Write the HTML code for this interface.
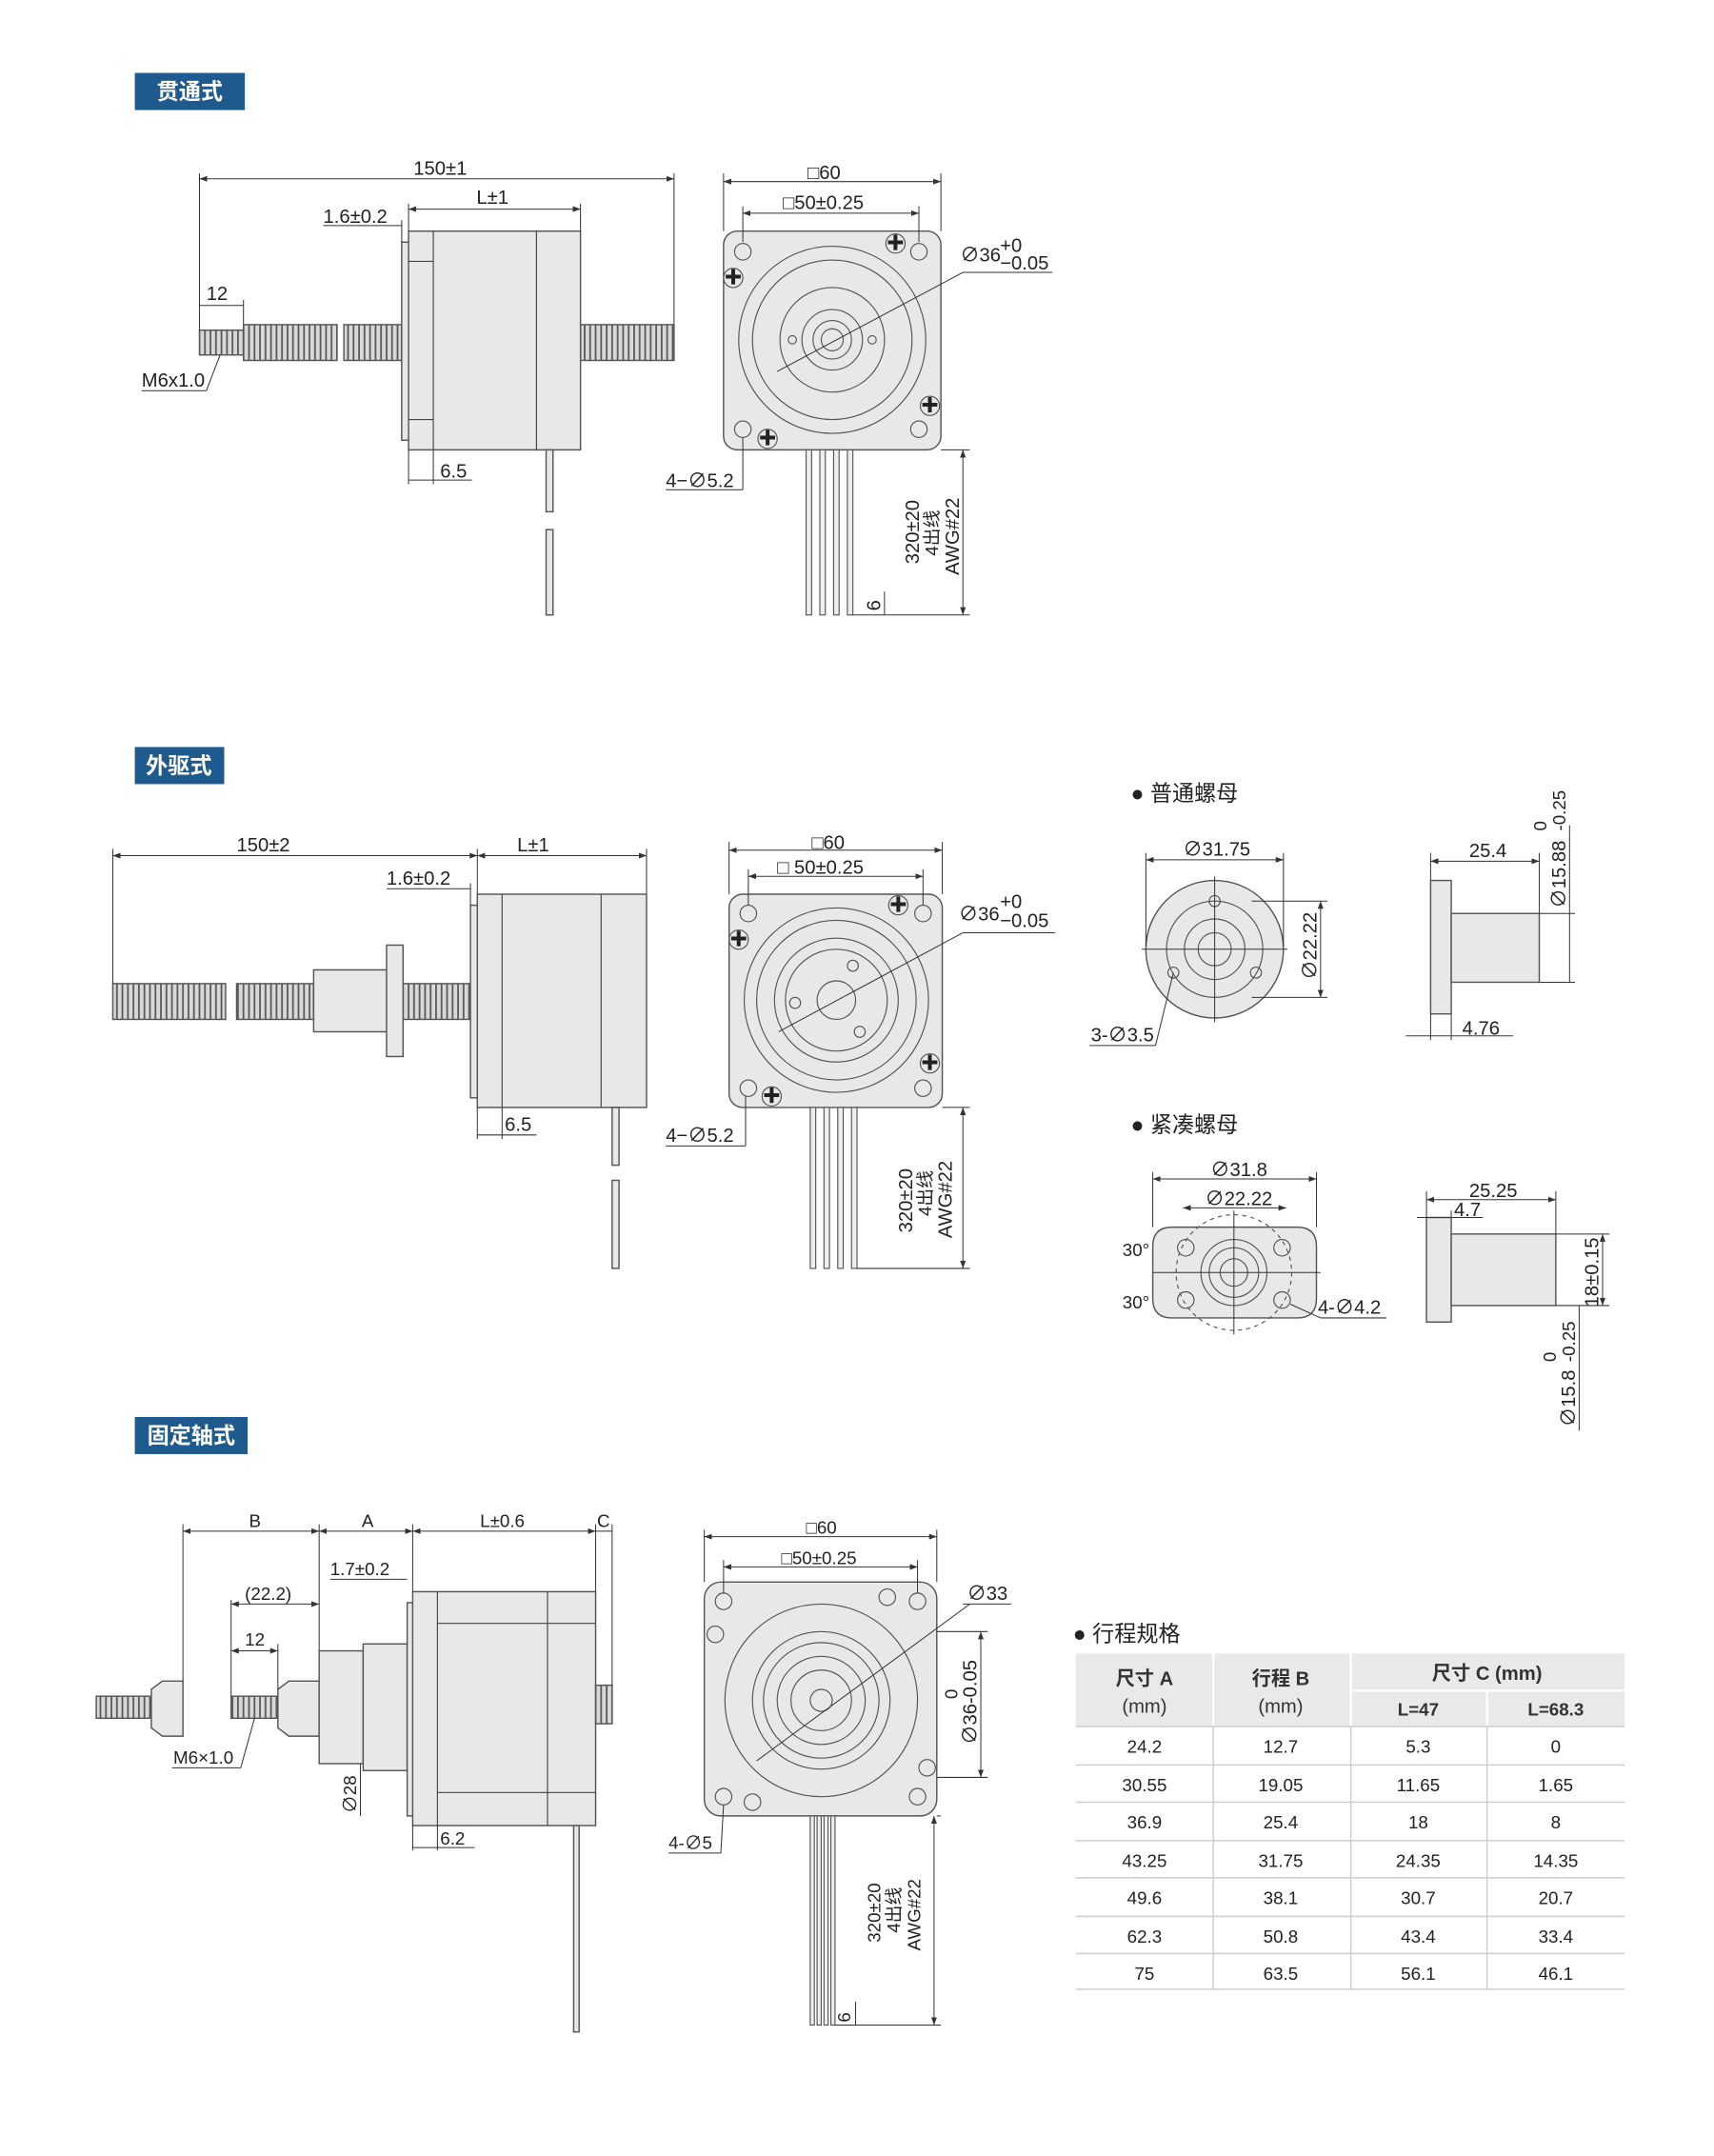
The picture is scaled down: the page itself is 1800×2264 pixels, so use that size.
<!DOCTYPE html>
<html><head><meta charset="utf-8">
<style>
html,body{margin:0;padding:0;background:#fff;}
svg{display:block;}
text{font-family:"Liberation Sans","Noto Sans CJK SC",sans-serif;fill:#222;}
.b{fill:#e8e8e8;stroke:#555;stroke-width:1;}
.l{stroke:#444;stroke-width:0.8;fill:none;}
.d{stroke:#333;stroke-width:0.7;fill:none;}
.c{stroke:#555;stroke-width:0.8;fill:none;}
.t{font-size:14px;}
.s{font-size:13px;}
.lab{fill:#fff;font-weight:bold;font-size:16px;}
.th{font-size:14px;font-weight:bold;fill:#333;}
.td{font-size:13px;fill:#555;}
</style></head>
<body>
<svg width="1800" height="2264" viewBox="0 0 1246 1567.2" xmlns="http://www.w3.org/2000/svg">
<defs>
<pattern id="thr" width="4" height="10" patternUnits="userSpaceOnUse">
<rect width="4" height="10" fill="#d8d8d8"/><line x1="1" y1="0" x2="1" y2="10" stroke="#555" stroke-width="1.2"/>
</pattern>
<marker id="a" markerWidth="8" markerHeight="6" refX="8" refY="3" orient="auto-start-reverse"><path d="M0,0 L8,3 L0,6z" fill="#333"/></marker>
</defs>

<!-- ===== Section 1 ===== -->
<rect x="98" y="53" width="80" height="27" fill="#1f5a8e"/>
<text x="138" y="72" text-anchor="middle" class="lab">贯通式</text>

<rect x="145" y="240" width="32" height="18" fill="url(#thr)" stroke="#555"/>
<rect x="177" y="236" width="68" height="26" fill="url(#thr)" stroke="#555"/>
<rect x="250" y="236" width="42" height="26" fill="url(#thr)" stroke="#555"/>
<rect x="422" y="236" width="68" height="26" fill="url(#thr)" stroke="#555"/>
<rect x="292" y="176" width="6" height="144" class="b"/>
<rect x="297" y="168" width="125" height="159" class="b"/>
<line x1="315" y1="168" x2="315" y2="327" class="l"/>
<line x1="390" y1="168" x2="390" y2="327" class="l"/>
<line x1="297" y1="190" x2="315" y2="190" class="l"/><line x1="297" y1="305" x2="315" y2="305" class="l"/>
<rect x="397" y="327" width="5" height="45" class="b"/><rect x="397" y="385" width="5" height="62" class="b"/>
<line x1="145" y1="130" x2="490" y2="130" class="d" marker-start="url(#a)" marker-end="url(#a)"/>
<line x1="145" y1="126" x2="145" y2="240" class="d"/><line x1="490" y1="126" x2="490" y2="236" class="d"/>
<text x="320" y="127" text-anchor="middle" class="t">150±1</text>
<line x1="297" y1="152" x2="422" y2="152" class="d" marker-start="url(#a)" marker-end="url(#a)"/>
<line x1="422" y1="148" x2="422" y2="168" class="d"/><line x1="297" y1="148" x2="297" y2="168" class="d"/>
<text x="358" y="148" text-anchor="middle" class="t">L±1</text>
<line x1="235" y1="164" x2="292" y2="164" class="d"/><line x1="292" y1="160" x2="292" y2="176" class="d"/>
<text x="235" y="162" class="t">1.6±0.2</text>
<line x1="145" y1="222" x2="177" y2="222" class="d"/><line x1="177" y1="218" x2="177" y2="236" class="d"/>
<text x="150" y="218" class="t">12</text>
<line x1="103" y1="284" x2="150" y2="284" class="d"/><line x1="150" y1="284" x2="160" y2="258" class="d"/>
<text x="103" y="281" class="t">M6x1.0</text>
<line x1="297" y1="327" x2="297" y2="352" class="d"/><line x1="315" y1="327" x2="315" y2="352" class="d"/>
<line x1="297" y1="349" x2="343" y2="349" class="d"/>
<text x="320" y="347" class="t">6.5</text>

<rect x="526" y="168" width="158" height="159" rx="10" class="b"/>
<circle cx="605" cy="247" r="68" class="c"/><circle cx="605" cy="247" r="58" class="c"/>
<circle cx="605" cy="247" r="38" class="c"/><circle cx="605" cy="247" r="22" class="c"/>
<circle cx="605" cy="247" r="14" class="c"/><circle cx="605" cy="247" r="8" class="c"/>
<circle cx="576" cy="247" r="3" class="c"/><circle cx="634" cy="247" r="3" class="c"/>
<circle cx="540" cy="183" r="6" class="c"/><circle cx="668" cy="183" r="6" class="c"/>
<circle cx="540" cy="312" r="6" class="c"/><circle cx="668" cy="312" r="6" class="c"/>
<g class="c"><circle cx="651" cy="177" r="7"/><circle cx="533" cy="202" r="7"/><circle cx="676" cy="295" r="7"/><circle cx="558" cy="319" r="7"/></g>
<text x="651" y="181" text-anchor="middle" class="s">✚</text><text x="533" y="206" text-anchor="middle" class="s">✚</text>
<text x="676" y="299" text-anchor="middle" class="s">✚</text><text x="558" y="323" text-anchor="middle" class="s">✚</text>
<line x1="565" y1="270" x2="700" y2="198" class="d"/><line x1="700" y1="198" x2="765" y2="198" class="d"/>
<text x="698" y="190" class="t">∅36</text><text x="727" y="183" class="t">+0</text><text x="727" y="196" class="t">−0.05</text>
<g fill="#eee" stroke="#555" stroke-width="0.8">
<rect x="586" y="327" width="4" height="120"/><rect x="596" y="327" width="4" height="120"/><rect x="606" y="327" width="4" height="120"/><rect x="616" y="327" width="4" height="120"/></g>
<line x1="526" y1="126" x2="526" y2="168" class="d"/><line x1="684" y1="126" x2="684" y2="168" class="d"/>
<line x1="526" y1="132" x2="684" y2="132" class="d" marker-start="url(#a)" marker-end="url(#a)"/>
<text x="587" y="130" class="t">□60</text>
<line x1="540" y1="150" x2="540" y2="176" class="d"/><line x1="668" y1="150" x2="668" y2="176" class="d"/>
<line x1="540" y1="155" x2="668" y2="155" class="d" marker-start="url(#a)" marker-end="url(#a)"/>
<text x="569" y="152" class="t">□50±0.25</text>
<line x1="484" y1="356" x2="540" y2="356" class="d"/><line x1="540" y1="356" x2="540" y2="318" class="d"/>
<text x="484" y="354" class="t">4−∅5.2</text>
<line x1="684" y1="327" x2="705" y2="327" class="d"/><line x1="620" y1="447" x2="705" y2="447" class="d"/>
<line x1="700" y1="327" x2="700" y2="447" class="d" marker-start="url(#a)" marker-end="url(#a)"/>
<line x1="643" y1="430" x2="643" y2="447" class="d"/>
<text transform="translate(668,410) rotate(-90)" class="t">320±20</text>
<text transform="translate(682,404) rotate(-90)" class="s">4出线</text>
<text transform="translate(697,418) rotate(-90)" class="t">AWG#22</text>
<text transform="translate(640,444) rotate(-90)" class="t">6</text>

<!-- ===== Section 2 ===== -->
<rect x="98" y="543" width="65" height="27" fill="#1f5a8e"/>
<text x="130" y="562" text-anchor="middle" class="lab">外驱式</text>
<rect x="82" y="715" width="82" height="26" fill="url(#thr)" stroke="#555"/>
<rect x="172" y="715" width="56" height="26" fill="url(#thr)" stroke="#555"/>
<rect x="293" y="715" width="52" height="26" fill="url(#thr)" stroke="#555"/>
<rect x="228" y="705" width="54" height="45" class="b"/>
<rect x="281" y="687" width="12" height="81" class="b"/>
<rect x="342" y="658" width="6" height="140" class="b"/>
<rect x="347" y="650" width="123" height="155" class="b"/>
<line x1="365" y1="650" x2="365" y2="805" class="l"/><line x1="437" y1="650" x2="437" y2="805" class="l"/>
<rect x="445" y="805" width="5" height="42" class="b"/><rect x="445" y="858" width="5" height="64" class="b"/>
<line x1="82" y1="617" x2="82" y2="715" class="d"/><line x1="347" y1="617" x2="347" y2="650" class="d"/><line x1="470" y1="617" x2="470" y2="650" class="d"/>
<line x1="82" y1="622" x2="347" y2="622" class="d" marker-start="url(#a)" marker-end="url(#a)"/>
<line x1="347" y1="622" x2="470" y2="622" class="d" marker-start="url(#a)" marker-end="url(#a)"/>
<text x="172" y="619" class="t">150±2</text><text x="376" y="619" class="t">L±1</text>
<line x1="281" y1="646" x2="342" y2="646" class="d"/><line x1="342" y1="642" x2="342" y2="658" class="d"/>
<text x="281" y="643" class="t">1.6±0.2</text>
<line x1="347" y1="805" x2="347" y2="828" class="d"/><line x1="365" y1="805" x2="365" y2="828" class="d"/>
<line x1="347" y1="825" x2="390" y2="825" class="d"/><text x="367" y="822" class="t">6.5</text>

<rect x="530" y="650" width="155" height="155" rx="10" class="b"/>
<circle cx="608" cy="727" r="67" class="c"/><circle cx="608" cy="727" r="58" class="c"/>
<circle cx="608" cy="727" r="45" class="c"/><circle cx="608" cy="727" r="37" class="c"/>
<circle cx="608" cy="727" r="14" class="c"/>
<circle cx="620" cy="702" r="4" class="c"/><circle cx="625" cy="750" r="4" class="c"/><circle cx="578" cy="729" r="4" class="c"/>
<circle cx="544" cy="664" r="6" class="c"/><circle cx="671" cy="664" r="6" class="c"/>
<circle cx="544" cy="791" r="6" class="c"/><circle cx="671" cy="791" r="6" class="c"/>
<g class="c"><circle cx="653" cy="658" r="7"/><circle cx="537" cy="683" r="7"/><circle cx="676" cy="773" r="7"/><circle cx="561" cy="797" r="7"/></g>
<text x="653" y="662" text-anchor="middle" class="s">✚</text><text x="537" y="687" text-anchor="middle" class="s">✚</text>
<text x="676" y="777" text-anchor="middle" class="s">✚</text><text x="561" y="801" text-anchor="middle" class="s">✚</text>
<line x1="566" y1="750" x2="700" y2="678" class="d"/><line x1="700" y1="678" x2="767" y2="678" class="d"/>
<text x="697" y="669" class="t">∅36</text><text x="727" y="660" class="t">+0</text><text x="727" y="674" class="t">−0.05</text>
<g fill="#eee" stroke="#555" stroke-width="0.8">
<rect x="589" y="805" width="4" height="117"/><rect x="599" y="805" width="4" height="117"/><rect x="609" y="805" width="4" height="117"/><rect x="619" y="805" width="4" height="117"/></g>
<line x1="530" y1="612" x2="530" y2="650" class="d"/><line x1="685" y1="612" x2="685" y2="650" class="d"/>
<line x1="530" y1="618" x2="685" y2="618" class="d" marker-start="url(#a)" marker-end="url(#a)"/>
<text x="590" y="617" class="t">□60</text>
<line x1="544" y1="632" x2="544" y2="658" class="d"/><line x1="671" y1="632" x2="671" y2="658" class="d"/>
<line x1="544" y1="637" x2="671" y2="637" class="d" marker-start="url(#a)" marker-end="url(#a)"/>
<text x="565" y="635" class="t">□ 50±0.25</text>
<line x1="484" y1="833" x2="542" y2="833" class="d"/><line x1="542" y1="833" x2="542" y2="797" class="d"/>
<text x="484" y="830" class="t">4−∅5.2</text>
<line x1="685" y1="805" x2="705" y2="805" class="d"/><line x1="623" y1="922" x2="705" y2="922" class="d"/>
<line x1="700" y1="805" x2="700" y2="922" class="d" marker-start="url(#a)" marker-end="url(#a)"/>
<text transform="translate(663,896) rotate(-90)" class="t">320±20</text>
<text transform="translate(677,884) rotate(-90)" class="s">4出线</text>
<text transform="translate(692,900) rotate(-90)" class="t">AWG#22</text>

<text x="822" y="582" class="t" style="font-size:16px">● 普通螺母</text>
<circle cx="883" cy="690" r="50" class="b"/><circle cx="883" cy="690" r="35" class="c"/>
<circle cx="883" cy="690" r="22" class="c"/><circle cx="883" cy="690" r="12" class="c"/>
<circle cx="883" cy="655" r="4" class="c"/><circle cx="853" cy="707" r="4" class="c"/><circle cx="913" cy="707" r="4" class="c"/>
<line x1="830" y1="690" x2="936" y2="690" class="d"/><line x1="883" y1="637" x2="883" y2="743" class="d"/>
<line x1="833" y1="620" x2="833" y2="688" class="d"/><line x1="933" y1="620" x2="933" y2="688" class="d"/>
<line x1="833" y1="625" x2="933" y2="625" class="d" marker-start="url(#a)" marker-end="url(#a)"/>
<text x="860" y="622" class="t">∅31.75</text>
<line x1="910" y1="655" x2="965" y2="655" class="d"/><line x1="910" y1="725" x2="965" y2="725" class="d"/>
<line x1="960" y1="655" x2="960" y2="725" class="d" marker-start="url(#a)" marker-end="url(#a)"/>
<text transform="translate(957,712) rotate(-90)" class="t">∅22.22</text>
<line x1="792" y1="760" x2="840" y2="760" class="d"/><line x1="840" y1="760" x2="853" y2="707" class="d"/>
<text x="793" y="757" class="t">3-∅3.5</text>
<rect x="1040" y="640" width="15" height="97" class="b"/>
<rect x="1055" y="664" width="64" height="50" class="b"/>
<line x1="1040" y1="620" x2="1040" y2="640" class="d"/><line x1="1119" y1="620" x2="1119" y2="664" class="d"/>
<line x1="1040" y1="626" x2="1119" y2="626" class="d" marker-start="url(#a)" marker-end="url(#a)"/>
<text x="1068" y="623" class="t">25.4</text>
<line x1="1119" y1="664" x2="1145" y2="664" class="d"/><line x1="1119" y1="714" x2="1145" y2="714" class="d"/>
<line x1="1141" y1="600" x2="1141" y2="714" class="d"/>
<text transform="translate(1138,660) rotate(-90)" class="t">∅15.88</text>
<text transform="translate(1138,604) rotate(-90)" class="s">-0.25</text>
<text transform="translate(1124,604) rotate(-90)" class="s">0</text>
<line x1="1040" y1="737" x2="1040" y2="756" class="d"/><line x1="1055" y1="737" x2="1055" y2="756" class="d"/>
<line x1="1022" y1="753" x2="1100" y2="753" class="d"/><text x="1063" y="752" class="t">4.76</text>

<text x="822" y="823" class="t" style="font-size:16px">● 紧凑螺母</text>
<path d="M852,892 L943,892 Q957,892 957,906 L957,944 Q957,958 943,958 L852,958 Q838,958 838,944 L838,906 Q838,892 852,892z" class="b"/>
<circle cx="897" cy="925" r="42" class="c" stroke-dasharray="3,3"/>
<circle cx="897" cy="925" r="24" class="c"/><circle cx="897" cy="925" r="18" class="c"/><circle cx="897" cy="925" r="10" class="c"/>
<circle cx="862" cy="907" r="6" class="c"/><circle cx="932" cy="907" r="6" class="c"/>
<circle cx="862" cy="945" r="6" class="c"/><circle cx="932" cy="945" r="6" class="c"/>
<line x1="838" y1="925" x2="960" y2="925" class="d"/><line x1="897" y1="880" x2="897" y2="970" class="d"/>
<line x1="838" y1="852" x2="838" y2="892" class="d"/><line x1="957" y1="852" x2="957" y2="892" class="d"/>
<line x1="838" y1="857" x2="957" y2="857" class="d" marker-start="url(#a)" marker-end="url(#a)"/>
<text x="880" y="855" class="t">∅31.8</text>
<line x1="860" y1="878" x2="935" y2="878" class="d" marker-start="url(#a)" marker-end="url(#a)"/>
<text x="876" y="876" class="t">∅22.22</text>
<text x="816" y="913" class="s">30°</text><text x="816" y="951" class="s">30°</text>
<line x1="938" y1="948" x2="960" y2="958" class="d"/><line x1="960" y1="958" x2="1008" y2="958" class="d"/>
<text x="958" y="955" class="t">4-∅4.2</text>
<rect x="1037" y="885" width="18" height="76" class="b"/><rect x="1055" y="897" width="76" height="52" class="b"/>
<line x1="1037" y1="866" x2="1037" y2="885" class="d"/><line x1="1131" y1="866" x2="1131" y2="897" class="d"/>
<line x1="1037" y1="872" x2="1131" y2="872" class="d" marker-start="url(#a)" marker-end="url(#a)"/>
<text x="1068" y="870" class="t">25.25</text>
<line x1="1055" y1="880" x2="1055" y2="885" class="d"/>
<line x1="1030" y1="885" x2="1078" y2="885" class="d"/><text x="1057" y="884" class="t">4.7</text>
<line x1="1131" y1="897" x2="1170" y2="897" class="d"/><line x1="1131" y1="949" x2="1170" y2="949" class="d"/>
<line x1="1165" y1="897" x2="1165" y2="949" class="d" marker-start="url(#a)" marker-end="url(#a)"/>
<text transform="translate(1162,950) rotate(-90)" class="t">18±0.15</text>
<line x1="1148" y1="949" x2="1148" y2="1040" class="d"/>
<text transform="translate(1145,1037) rotate(-90)" class="t">∅15.8</text>
<text transform="translate(1145,990) rotate(-90)" class="s">-0.25</text>
<text transform="translate(1131,990) rotate(-90)" class="s">0</text>

<!-- ===== Section 3 ===== -->
<rect x="98" y="1030" width="82" height="27" fill="#1f5a8e"/>
<text x="139" y="1049" text-anchor="middle" class="lab">固定轴式</text>
<rect x="70" y="1233" width="40" height="16" fill="url(#thr)" stroke="#555"/>
<path d="M110,1228 L118,1222 L133,1222 L133,1262 L118,1262 L110,1256z" class="b"/>
<rect x="168" y="1233" width="34" height="16" fill="url(#thr)" stroke="#555"/>
<path d="M202,1228 L210,1222 L232,1222 L232,1262 L210,1262 L202,1256z" class="b"/>
<rect x="232" y="1200" width="32" height="82" class="b"/>
<rect x="264" y="1195" width="32" height="92" class="b"/>
<rect x="296" y="1165" width="5" height="155" class="b"/>
<rect x="300" y="1157" width="133" height="170" class="b"/>
<line x1="318" y1="1157" x2="318" y2="1327" class="l"/><line x1="398" y1="1157" x2="398" y2="1327" class="l"/>
<line x1="318" y1="1180" x2="433" y2="1180" class="l"/><line x1="318" y1="1303" x2="433" y2="1303" class="l"/>
<rect x="433" y="1225" width="12" height="28" fill="url(#thr)" stroke="#555"/>
<rect x="417" y="1327" width="4" height="150" class="b"/>
<g class="d">
<line x1="133" y1="1108" x2="133" y2="1222"/><line x1="232" y1="1108" x2="232" y2="1200"/><line x1="300" y1="1108" x2="300" y2="1157"/><line x1="433" y1="1108" x2="433" y2="1157"/><line x1="445" y1="1108" x2="445" y2="1225"/>
</g>
<line x1="133" y1="1113" x2="232" y2="1113" class="d" marker-start="url(#a)" marker-end="url(#a)"/>
<line x1="232" y1="1113" x2="300" y2="1113" class="d" marker-start="url(#a)" marker-end="url(#a)"/>
<line x1="300" y1="1113" x2="433" y2="1113" class="d" marker-start="url(#a)" marker-end="url(#a)"/>
<line x1="433" y1="1113" x2="445" y2="1113" class="d"/>
<text x="181" y="1110" class="s">B</text><text x="263" y="1110" class="s">A</text><text x="349" y="1110" class="s">L±0.6</text><text x="434" y="1110" class="s">C</text>
<line x1="240" y1="1148" x2="296" y2="1148" class="d"/><text x="240" y="1145" class="s">1.7±0.2</text>
<line x1="168" y1="1163" x2="168" y2="1233" class="d"/><line x1="168" y1="1166" x2="232" y2="1166" class="d" marker-start="url(#a)" marker-end="url(#a)"/>
<text x="178" y="1163" class="s">(22.2)</text>
<line x1="202" y1="1195" x2="202" y2="1228" class="d"/><line x1="168" y1="1200" x2="202" y2="1200" class="d" marker-start="url(#a)" marker-end="url(#a)"/>
<text x="178" y="1196" class="s">12</text>
<line x1="125" y1="1285" x2="175" y2="1285" class="d"/><line x1="175" y1="1285" x2="185" y2="1249" class="d"/>
<text x="126" y="1282" class="s">M6×1.0</text>
<line x1="262" y1="1282" x2="262" y2="1320" class="d"/><text transform="translate(259,1318) rotate(-90)" class="s">∅28</text>
<line x1="300" y1="1327" x2="300" y2="1345" class="d"/><line x1="318" y1="1327" x2="318" y2="1345" class="d"/>
<line x1="300" y1="1343" x2="345" y2="1343" class="d"/><text x="320" y="1341" class="s">6.2</text>

<rect x="512" y="1150" width="169" height="170" rx="12" class="b"/>
<circle cx="597" cy="1236" r="70" class="c"/><circle cx="597" cy="1236" r="50" class="c"/>
<circle cx="597" cy="1236" r="42" class="c"/><circle cx="597" cy="1236" r="32" class="c"/>
<circle cx="597" cy="1236" r="22" class="c"/><circle cx="597" cy="1236" r="8" class="c"/>
<circle cx="526" cy="1164" r="6" class="c"/><circle cx="667" cy="1164" r="6" class="c"/>
<circle cx="526" cy="1306" r="6" class="c"/><circle cx="667" cy="1306" r="6" class="c"/>
<circle cx="645" cy="1161" r="6" class="c"/><circle cx="520" cy="1188" r="6" class="c"/><circle cx="674" cy="1285" r="6" class="c"/><circle cx="547" cy="1310" r="6" class="c"/>
<line x1="550" y1="1280" x2="705" y2="1166" class="d"/><line x1="700" y1="1166" x2="735" y2="1166" class="d"/>
<text x="703" y="1163" class="t">∅33</text>
<line x1="681" y1="1186" x2="718" y2="1186" class="d"/><line x1="681" y1="1292" x2="718" y2="1292" class="d"/>
<line x1="713" y1="1186" x2="713" y2="1292" class="d" marker-start="url(#a)" marker-end="url(#a)"/>
<text transform="translate(710,1268) rotate(-90)" class="t">∅36-0.05</text><text transform="translate(696,1235) rotate(-90)" class="s">0</text>
<g fill="#eee" stroke="#555" stroke-width="0.8">
<rect x="589" y="1320" width="3" height="152"/><rect x="594" y="1320" width="3" height="152"/><rect x="599" y="1320" width="3" height="152"/><rect x="604" y="1320" width="3" height="152"/></g>
<line x1="512" y1="1112" x2="512" y2="1150" class="d"/><line x1="681" y1="1112" x2="681" y2="1150" class="d"/>
<line x1="512" y1="1117" x2="681" y2="1117" class="d" marker-start="url(#a)" marker-end="url(#a)"/>
<text x="586" y="1115" class="s">□60</text>
<line x1="526" y1="1134" x2="526" y2="1158" class="d"/><line x1="667" y1="1134" x2="667" y2="1158" class="d"/>
<line x1="526" y1="1139" x2="667" y2="1139" class="d" marker-start="url(#a)" marker-end="url(#a)"/>
<text x="568" y="1137" class="s">□50±0.25</text>
<line x1="486" y1="1347" x2="524" y2="1347" class="d"/><line x1="524" y1="1347" x2="526" y2="1312" class="d"/>
<text x="486" y="1344" class="s">4-∅5</text>
<line x1="681" y1="1320" x2="684" y2="1320" class="d"/><line x1="607" y1="1472" x2="684" y2="1472" class="d"/>
<line x1="679" y1="1320" x2="679" y2="1472" class="d" marker-start="url(#a)" marker-end="url(#a)"/>
<line x1="622" y1="1455" x2="622" y2="1472" class="d"/>
<text transform="translate(640,1412) rotate(-90)" class="s">320±20</text>
<text transform="translate(654,1405) rotate(-90)" class="s">4出线</text>
<text transform="translate(669,1418) rotate(-90)" class="s">AWG#22</text>
<text transform="translate(618,1470) rotate(-90)" class="s">6</text>

<text x="780" y="1193" class="t" style="font-size:16px">● 行程规格</text>
<rect x="782" y="1202" width="399" height="53" fill="#e9e9e9"/>
<line x1="982" y1="1229" x2="1181" y2="1229" stroke="#fff" stroke-width="1.5"/>
<g stroke="#fff" stroke-width="1.5"><line x1="882" y1="1202" x2="882" y2="1255"/><line x1="982" y1="1202" x2="982" y2="1255"/><line x1="1081" y1="1229" x2="1081" y2="1255"/></g>
<text x="832" y="1225" text-anchor="middle" class="th">尺寸 A</text><text x="832" y="1245" text-anchor="middle" class="th" style="font-weight:normal">(mm)</text>
<text x="931" y="1225" text-anchor="middle" class="th">行程 B</text><text x="931" y="1245" text-anchor="middle" class="th" style="font-weight:normal">(mm)</text>
<text x="1081" y="1221" text-anchor="middle" class="th">尺寸 C (mm)</text>
<text x="1031" y="1247" text-anchor="middle" class="th" style="font-size:13px">L=47</text>
<text x="1131" y="1247" text-anchor="middle" class="th" style="font-size:13px">L=68.3</text>
<g stroke="#ccc" stroke-width="1">
<line x1="782" y1="1255" x2="1181" y2="1255"/><line x1="782" y1="1283" x2="1181" y2="1283"/><line x1="782" y1="1310" x2="1181" y2="1310"/><line x1="782" y1="1338" x2="1181" y2="1338"/><line x1="782" y1="1365" x2="1181" y2="1365"/><line x1="782" y1="1393" x2="1181" y2="1393"/><line x1="782" y1="1420" x2="1181" y2="1420"/><line x1="782" y1="1446" x2="1181" y2="1446"/>
<line x1="882" y1="1255" x2="882" y2="1446"/><line x1="982" y1="1255" x2="982" y2="1446"/><line x1="1081" y1="1255" x2="1081" y2="1446"/>
</g>
<g class="td" text-anchor="middle">
<text x="832" y="1274">24.2</text><text x="931" y="1274">12.7</text><text x="1031" y="1274">5.3</text><text x="1131" y="1274">0</text>
<text x="832" y="1302">30.55</text><text x="931" y="1302">19.05</text><text x="1031" y="1302">11.65</text><text x="1131" y="1302">1.65</text>
<text x="832" y="1329">36.9</text><text x="931" y="1329">25.4</text><text x="1031" y="1329">18</text><text x="1131" y="1329">8</text>
<text x="832" y="1357">43.25</text><text x="931" y="1357">31.75</text><text x="1031" y="1357">24.35</text><text x="1131" y="1357">14.35</text>
<text x="832" y="1384">49.6</text><text x="931" y="1384">38.1</text><text x="1031" y="1384">30.7</text><text x="1131" y="1384">20.7</text>
<text x="832" y="1412">62.3</text><text x="931" y="1412">50.8</text><text x="1031" y="1412">43.4</text><text x="1131" y="1412">33.4</text>
<text x="832" y="1439">75</text><text x="931" y="1439">63.5</text><text x="1031" y="1439">56.1</text><text x="1131" y="1439">46.1</text>
</g>
</svg>
</body></html>
